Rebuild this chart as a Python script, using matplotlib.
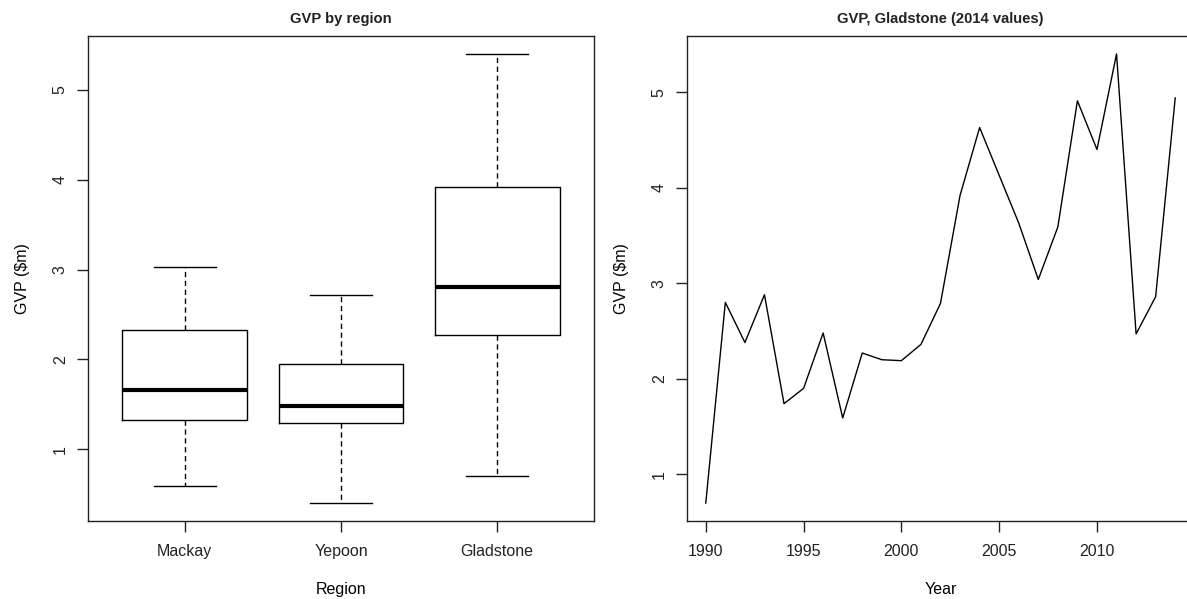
## Recreate the GVP boxplot + Gladstone time series (R base graphics look)

import numpy as np
import matplotlib
matplotlib.use('Agg')
import matplotlib.pyplot as plt

# box statistics: whisker low, Q1, median, Q3, whisker high
regions = ['Mackay', 'Yepoon', 'Gladstone']
whislo = [0.59, 0.40, 0.70]
q1 = [1.32, 1.29, 2.27]
med = [1.66, 1.48, 2.80]
q3 = [2.33, 1.95, 3.92]
whishi = [3.03, 2.72, 5.40]

# Gladstone GVP by year
years = np.arange(1990, 2015)
gvp_gladstone = [0.70, 2.80, 2.38, 2.88, 1.74, 1.90, 2.48, 1.59, 2.27, 2.20,
                 2.19, 2.36, 2.79, 3.92, 4.63, 4.13, 3.63, 3.04, 3.59, 4.91,
                 4.40, 5.40, 2.47, 2.86, 4.94]

plt.rcParams['font.family'] = ['Liberation Sans', 'DejaVu Sans']
plt.rcParams['axes.linewidth'] = 1.0
plt.rcParams['text.color'] = '#222222'
plt.rcParams['xtick.color'] = '#222222'
plt.rcParams['ytick.color'] = '#222222'

FS = 11.5
W, H = 1187, 599
fig = plt.figure(figsize=(W / 100, H / 100), dpi=100)
fig.patch.set_facecolor('white')

def px_axes(x0, x1, ytop, ybot):
    return fig.add_axes([x0 / W, 1 - ybot / H, (x1 - x0) / W, (ybot - ytop) / H])

def r_style(ax):
    for s in ax.spines.values():
        s.set_color('#222222')
    ax.tick_params(axis='both', length=8, width=1.0, labelsize=FS)
    ax.tick_params(axis='x', pad=8.5)
    ax.tick_params(axis='y', pad=6.5)
    for lab in ax.get_yticklabels():
        lab.set_rotation(90)
        lab.set_va('center')

# ---- left: boxplot
ax1 = px_axes(88, 594, 36, 521)
stats = []
for i, name in enumerate(regions):
    stats.append(dict(label=name, whislo=whislo[i], q1=q1[i], med=med[i],
                      q3=q3[i], whishi=whishi[i], fliers=[]))
ax1.bxp(stats, positions=[1, 2, 3], widths=0.8, showfliers=False,
        boxprops=dict(color='black', linewidth=1.0),
        medianprops=dict(color='black', linewidth=3.0, solid_capstyle='butt'),
        whiskerprops=dict(color='black', linewidth=1.0, linestyle=(0, (3.8, 2.6))),
        capprops=dict(color='black', linewidth=1.0),
        capwidths=0.4)
ax1.set_xlim(0.38, 3.62)
ax1.set_ylim(0.2, 5.6)
ax1.set_yticks([1, 2, 3, 4, 5])
ax1.set_xticks([1, 2, 3])
ax1.set_xticklabels(regions)
ax1.set_title('GVP by region', fontsize=10.6, fontweight='bold', pad=9)
ax1.set_xlabel('Region', fontsize=FS)
ax1.set_ylabel('GVP ($m)', fontsize=FS)
r_style(ax1)
ax1.xaxis.set_label_coords(0.5, -0.126)
ax1.yaxis.set_label_coords(-0.115, 0.5)

# ---- right: time series (plot region runs past the right edge of the image)
ax2 = px_axes(687, 1194, 36, 521)
ax2.plot(years, gvp_gladstone, color='black', linewidth=1.0)
ax2.set_xlim(1989.04, 2014.96)
ax2.set_ylim(0.512, 5.588)
ax2.set_xticks([1990, 1995, 2000, 2005, 2010])
ax2.set_yticks([1, 2, 3, 4, 5])
ax2.set_title('GVP, Gladstone (2014 values)', fontsize=10.6, fontweight='bold', pad=9)
ax2.set_xlabel('Year', fontsize=FS)
ax2.set_ylabel('GVP ($m)', fontsize=FS)
r_style(ax2)
ax2.xaxis.set_label_coords(0.5, -0.126)
ax2.yaxis.set_label_coords(-0.115, 0.5)

fig.savefig('out.png', dpi=100, facecolor='white')
